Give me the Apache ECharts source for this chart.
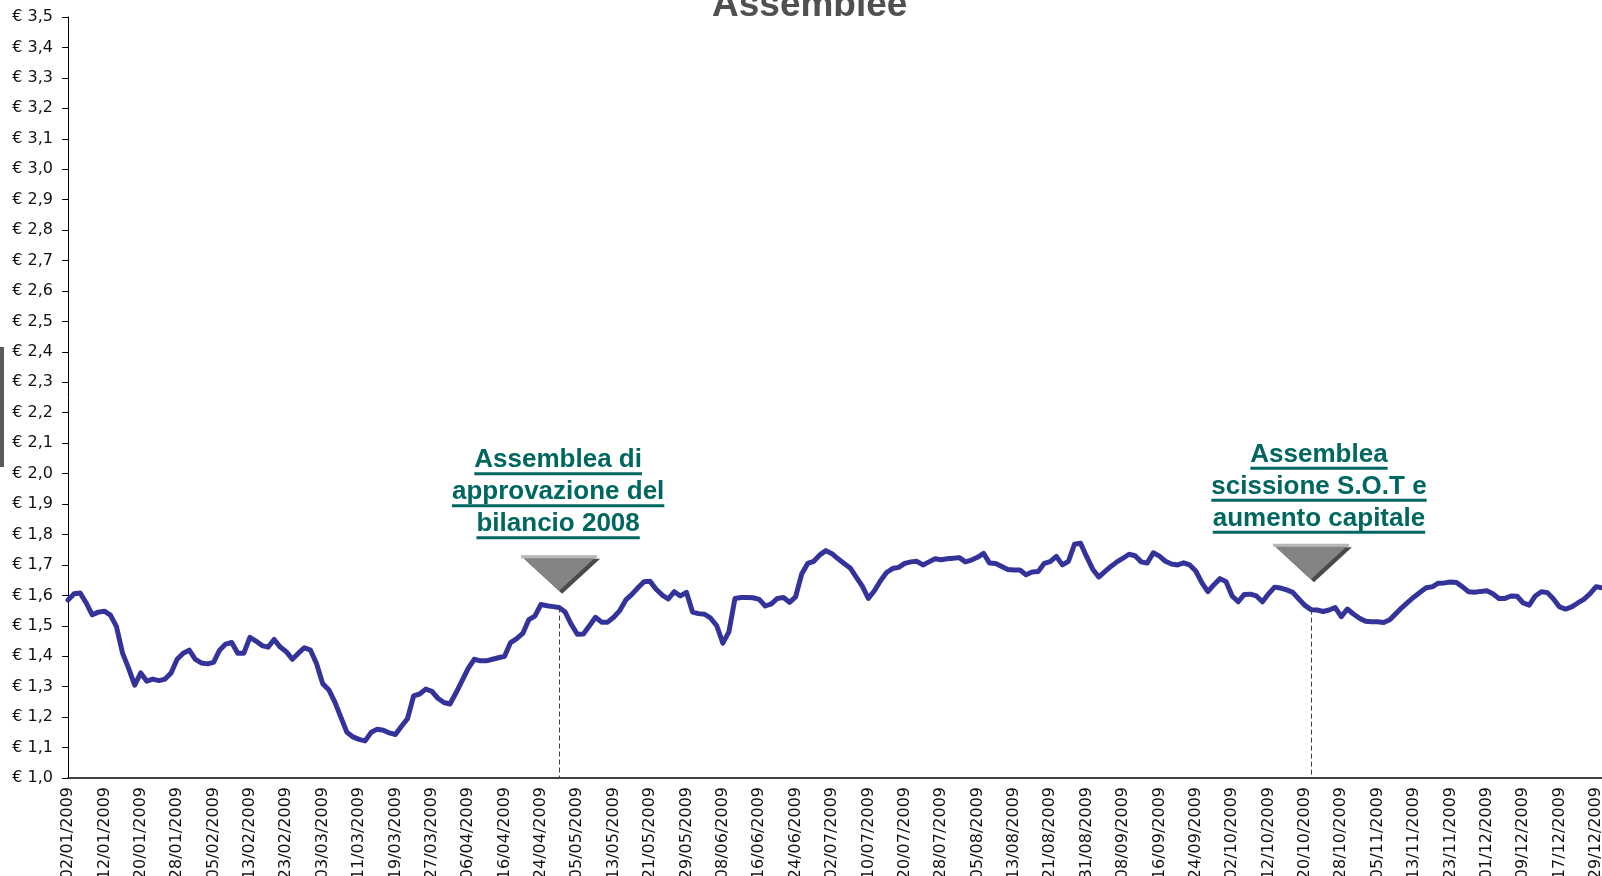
<!DOCTYPE html>
<html><head><meta charset="utf-8">
<script src="https://cdn.jsdelivr.net/npm/echarts@6/dist/echarts.min.js"></script>
<style>html,body{margin:0;padding:0;background:#fff}#c{width:1602px;height:876px}</style>
</head><body><div id="c"></div>
<script>
// Borsa closing days on weekdays in 2009 (no trading)
const holidays = ['10/04/2009','13/04/2009','01/05/2009','24/12/2009','25/12/2009'];
const firstDay = '02/01/2009';
const lastDay = '30/12/2009';

function pad(n){return (n<10?'0':'')+n;}
function tradingDays(){
  const out=[];
  const p1=firstDay.split('/').map(Number), p2=lastDay.split('/').map(Number);
  const d=new Date(Date.UTC(p1[2],p1[1]-1,p1[0]));
  const end=Date.UTC(p2[2],p2[1]-1,p2[0]);
  while(d.getTime()<=end){
    const wd=d.getUTCDay();
    const s=pad(d.getUTCDate())+'/'+pad(d.getUTCMonth()+1)+'/'+d.getUTCFullYear();
    if(wd!==0&&wd!==6&&holidays.indexOf(s)<0) out.push(s);
    d.setUTCDate(d.getUTCDate()+1);
  }
  return out;
}
const categories = tradingDays();

// closing prices (EUR), one per trading day
const prices = [
 1.585,1.605,1.608,1.575,1.536,1.545,1.548,1.535,1.497,1.410,
 1.360,1.305,1.345,1.318,1.325,1.320,1.325,1.345,1.390,1.410,
 1.420,1.390,1.378,1.375,1.380,1.420,1.440,1.445,1.410,1.410,
 1.462,1.450,1.435,1.430,1.455,1.430,1.415,1.390,1.410,1.428,
 1.420,1.375,1.310,1.290,1.250,1.200,1.150,1.135,1.127,1.122,
 1.150,1.160,1.157,1.148,1.143,1.170,1.195,1.270,1.276,1.292,
 1.285,1.262,1.248,1.243,1.280,1.320,1.360,1.390,1.385,1.385,
 1.390,1.395,1.400,1.445,1.458,1.475,1.520,1.532,1.570,1.566,
 1.563,1.560,1.545,1.505,1.472,1.473,1.500,1.528,1.512,1.512,
 1.528,1.550,1.585,1.603,1.625,1.645,1.646,1.620,1.601,1.588,
 1.612,1.598,1.610,1.545,1.540,1.538,1.525,1.500,1.443,1.480,
 1.590,1.593,1.593,1.592,1.587,1.565,1.572,1.590,1.593,1.577,
 1.595,1.670,1.705,1.712,1.733,1.747,1.737,1.720,1.705,1.690,
 1.660,1.630,1.590,1.615,1.648,1.675,1.688,1.692,1.705,1.710,
 1.712,1.700,1.710,1.720,1.717,1.720,1.722,1.724,1.710,1.716,
 1.725,1.738,1.706,1.705,1.695,1.685,1.683,1.683,1.668,1.677,
 1.678,1.705,1.711,1.728,1.700,1.712,1.768,1.771,1.727,1.686,
 1.660,1.678,1.695,1.710,1.722,1.735,1.730,1.710,1.706,1.740,
 1.729,1.712,1.703,1.700,1.707,1.700,1.680,1.642,1.612,1.635,
 1.655,1.645,1.598,1.579,1.603,1.604,1.598,1.579,1.605,1.627,
 1.624,1.618,1.610,1.588,1.567,1.553,1.552,1.547,1.552,1.560,
 1.530,1.555,1.539,1.525,1.515,1.513,1.513,1.511,1.520,1.540,
 1.560,1.578,1.595,1.610,1.625,1.628,1.640,1.641,1.644,1.642,
 1.628,1.612,1.610,1.613,1.615,1.605,1.590,1.590,1.598,1.597,
 1.575,1.568,1.598,1.612,1.609,1.588,1.562,1.555,1.562,1.575,
 1.587,1.605,1.628,1.625
];

const titleText = 'Assemblee';
const notes = [
  {date:'29/04/2009', apex:1.615, lineFrom:1.560, dx:-1, underlineTop:-117, lineGap:32,
   lines:['Assemblea di','approvazione del','bilancio 2008']},
  {date:'21/10/2009', apex:1.653, lineFrom:1.553, dx:8, underlineTop:-111, lineGap:32,
   lines:['Assemblea','scissione S.O.T e','aumento capitale']}
];
const noteColor = '#006660';
const noteFont = 'bold 26px "Liberation Sans", Arial, sans-serif';
const triW = 76, triH = 35;

const markPts = [];
notes.forEach(n=>{
  markPts.push({coord:[n.date,n.apex], symbol:'path://M0,0L76,0L38,35Z', symbolSize:[triW,triH], symbolOffset:[3,-triH/2+3], itemStyle:{color:'#4a4a4a'}});
  markPts.push({coord:[n.date,n.apex], symbol:'path://M0,0L76,0L38,35Z', symbolSize:[triW,triH], symbolOffset:[0,-triH/2], itemStyle:{color:'#848484'}});
  markPts.push({coord:[n.date,n.apex], symbol:'rect', symbolSize:[triW,3], symbolOffset:[0,-triH+1], itemStyle:{color:'#b8b8b8'}});
});
const markLines = notes.map(n=>[{coord:[n.date,n.lineFrom]},{coord:[n.date,1.0]}]);

const axisFont = '"DejaVu Sans", Verdana, sans-serif';
const option = {
  animation:false,
  backgroundColor:'#fff',
  title:{text:titleText, left:712, top:-13, padding:0,
    textStyle:{fontSize:37, fontWeight:'bold', color:'#505050', fontFamily:'"Liberation Sans", Arial, sans-serif'}},
  grid:{left:68, right:0, top:17, bottom:98, containLabel:false, outerBoundsMode:'none'},
  xAxis:{type:'category', data:categories, boundaryGap:false,
    axisLine:{lineStyle:{color:'#404040', width:2}},
    axisTick:{show:false},
    axisLabel:{interval:5, rotate:90, margin:9, color:'#111', fontSize:16, fontFamily:axisFont},
    splitLine:{show:false}},
  yAxis:{type:'value', min:1, max:3.5, interval:0.1,
    axisLine:{show:true, lineStyle:{color:'#000', width:1}},
    axisTick:{show:true, length:6, lineStyle:{color:'#000'}},
    axisLabel:{margin:15, color:'#111', fontSize:16, fontFamily:axisFont,
      formatter:v=>'€ '+v.toFixed(1).replace('.',',')},
    splitLine:{show:false}},
  series:[{
    type:'line', data:prices, showSymbol:false, symbol:'none', silent:true,
    lineStyle:{color:'#333399', width:5, cap:'round', join:'round'},
    markLine:{silent:true, symbol:['none','none'], label:{show:false},
      lineStyle:{color:'#404040', width:1, type:[5,3]}, emphasis:{disabled:true}, data:markLines},
    markPoint:{silent:true, label:{show:false}, emphasis:{disabled:true}, data:markPts}
  }]
};

const chart = echarts.init(document.getElementById('c'));
chart.setOption(option);

const ctx = document.createElement('canvas').getContext('2d');
ctx.font = noteFont;
const graphics = [{type:'rect', silent:true, shape:{x:0,y:347,width:4,height:120}, style:{fill:'#5a5a5a'}}];
notes.forEach(n=>{
  const p = chart.convertToPixel({xAxisIndex:0,yAxisIndex:0},[n.date,n.apex]);
  n.lines.forEach((t,k)=>{
    const uy = p[1] + n.underlineTop + k*n.lineGap;
    const cx = p[0] + n.dx;
    const w = ctx.measureText(t).width;
    graphics.push({type:'text', silent:true, x:cx, y:uy-13.5,
      style:{text:t, font:noteFont, fill:noteColor, align:'center', verticalAlign:'middle', textAlign:'center', textVerticalAlign:'middle'}});
    graphics.push({type:'rect', silent:true, shape:{x:cx-w/2, y:uy-1.5, width:w, height:3}, style:{fill:noteColor}});
  });
});
chart.setOption({graphic:graphics});
</script>
</body></html>
